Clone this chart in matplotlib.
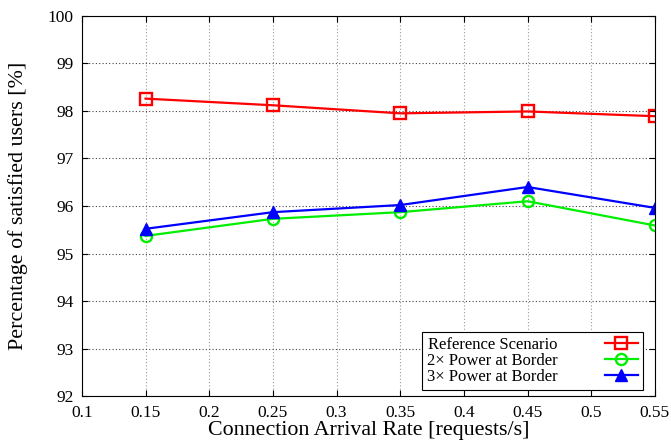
import matplotlib
matplotlib.use("Agg")
import matplotlib.pyplot as plt

plt.rcParams['font.family'] = ['Liberation Serif', 'DejaVu Serif']
plt.rcParams['mathtext.fontset'] = 'stix'

rates = [0.15, 0.25, 0.35, 0.45, 0.55]
reference = [98.26, 98.12, 97.95, 97.99, 97.89]
power_2x = [95.37, 95.73, 95.87, 96.10, 95.59]
power_3x = [95.52, 95.87, 96.02, 96.40, 95.96]

labels = ['Reference Scenario', '2\u00d7 Power at Border', '3\u00d7 Power at Border']

fig, ax = plt.subplots(figsize=(6.71, 4.43), dpi=100)
fig.subplots_adjust(left=0.122, right=0.976, top=0.964, bottom=0.106)

ax.plot(rates, reference, color='#ff0000', lw=1.6, marker='s', ms=8,
        mfc='none', mew=1.7, label=labels[0])
ax.plot(rates, power_2x, color='#00ee00', lw=1.6, marker='o', ms=8,
        mfc='none', mew=1.7, label=labels[1])
ax.plot(rates, power_3x, color='#0000ff', lw=1.6, marker='^', ms=9,
        label=labels[2])

ax.set_xlim(0.1, 0.55)
ax.set_ylim(92, 100)
ax.set_xticks([0.1, 0.15, 0.2, 0.25, 0.3, 0.35, 0.4, 0.45, 0.5, 0.55])
ax.set_xticklabels(['0.1', '0.15', '0.2', '0.25', '0.3', '0.35', '0.4', '0.45', '0.5', '0.55'])
ax.set_yticks(range(92, 101))

ax.xaxis.grid(True, linestyle=(0, (1, 2)), color='#999999', lw=0.8)
ax.yaxis.grid(True, linestyle=(0, (1, 2)), color='#444444', lw=0.8)
ax.tick_params(direction='in', top=True, right=True, labelsize=12.5, length=4)
ax.tick_params(axis='x', pad=6.5)
ax.tick_params(axis='y', pad=6)

ax.set_xlabel('Connection Arrival Rate [requests/s]', fontsize=15.8, labelpad=0)
ax.set_ylabel('Percentage of satisfied users [%]', fontsize=15.8, labelpad=14)

leg = ax.legend(loc='lower right', bbox_to_anchor=(0.979, 0.016),
                markerfirst=False, fontsize=12,
                fancybox=False, edgecolor='black', framealpha=1,
                handlelength=2.0, borderpad=0.3, labelspacing=0.0,
                handletextpad=2.8, borderaxespad=0)
leg.get_frame().set_linewidth(0.8)

fig.savefig('out.png', dpi=100)
